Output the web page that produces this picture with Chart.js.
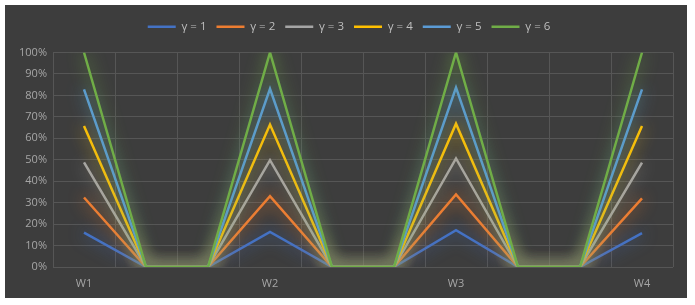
<!DOCTYPE html>
<html>
<head>
<meta charset="utf-8">
<script src="https://cdn.jsdelivr.net/npm/chart.js@4.4.1/dist/chart.umd.min.js"></script>
<style>
  html, body { margin: 0; padding: 0; background: #ffffff; }
  #wrap { position: absolute; left: 5px; top: 5px; width: 682px; height: 293px; background: #3d3d3d; }
  canvas { display: block; }
</style>
</head>
<body>
<div id="wrap"><canvas id="c" width="682" height="293"></canvas></div>
<script>
const categories = ['W1', '', '', 'W2', '', '', 'W3', '', '', 'W4'];
const seriesNames = ['γ = 1', 'γ = 2', 'γ = 3', 'γ = 4', 'γ = 5', 'γ = 6'];
const g1 = [0.160, 0, 0, 0.164, 0, 0, 0.172, 0, 0, 0.158];
const g2 = [0.324, 0, 0, 0.330, 0, 0, 0.338, 0, 0, 0.320];
const g3 = [0.488, 0, 0, 0.498, 0, 0, 0.506, 0, 0, 0.487];
const g4 = [0.657, 0, 0, 0.664, 0, 0, 0.668, 0, 0, 0.657];
const g5 = [0.828, 0, 0, 0.831, 0, 0, 0.836, 0, 0, 0.828];
const g6 = [1.000, 0, 0, 1.000, 0, 0, 1.000, 0, 0, 1.000];
const yTicks = [0, 0.1, 0.2, 0.3, 0.4, 0.5, 0.6, 0.7, 0.8, 0.9, 1.0];

const seriesValues = [g1, g2, g3, g4, g5, g6];
const colors = ['#4472C4', '#ED7D31', '#A5A5A5', '#FFC000', '#5B9BD5', '#70AD47'];
const glowColors = ['rgba(68,114,196,1)', 'rgba(237,125,49,1)', 'rgba(165,165,165,0.9)', 'rgba(255,192,0,0.85)', 'rgba(91,155,213,1)', 'rgba(112,173,71,1)'];

const glowPlugin = {
  id: 'glow',
  beforeInit(chart) {
    const lg = chart.legend;
    if (lg) {
      const orig = lg.fit.bind(lg);
      lg.fit = function () { orig(); this.height += 10; };
    }
  },
  afterLayout(chart) {
    const lg = chart.legend;
    if (lg) { lg.left += 10; lg.right += 10; }
  },
  beforeDatasetDraw(chart, args) {
    const ctx = chart.ctx;
    ctx.save();
    ctx.shadowColor = glowColors[args.index];
    ctx.shadowBlur = 16;
    ctx.shadowOffsetX = 0;
    ctx.shadowOffsetY = 0;
  },
  afterDatasetDraw(chart) {
    chart.ctx.restore();
  }
};

const datasets = seriesValues.map((vals, i) => ({
  label: seriesNames[i],
  data: vals,
  borderColor: colors[i],
  backgroundColor: colors[i],
  borderWidth: 2.5,
  pointRadius: 0,
  pointHoverRadius: 0,
  tension: 0,
  fill: false,
  order: 6 - i
}));

const font = { family: "'Open Sans', 'DejaVu Sans', sans-serif", size: 11 };

new Chart(document.getElementById('c'), {
  type: 'line',
  data: { labels: categories, datasets },
  plugins: [glowPlugin],
  options: {
    responsive: false,
    animation: false,
    layout: { padding: { top: 6, right: 14, left: 0, bottom: 4 } },
    plugins: {
      tooltip: { enabled: false },
      legend: {
        position: 'top',
        labels: {
          usePointStyle: true,
          pointStyle: 'line',
          pointStyleWidth: 28,
          color: '#bfbfbf',
          font: { family: font.family, size: 11.5 },
          padding: 10,
          sort: (a, b) => a.datasetIndex - b.datasetIndex
        }
      }
    },
    scales: {
      x: {
        offset: true,
        grid: { color: '#565656', lineWidth: 1, offset: true, drawTicks: false },
        border: { display: false },
        ticks: { color: '#a6a6a6', font: font, padding: 10, maxRotation: 0, autoSkip: false },
        afterFit(scale) { scale.height = 27; }
      },
      y: {
        min: 0,
        max: 1,
        afterBuildTicks(scale) { scale.ticks = yTicks.map(v => ({ value: v })); },
        grid: { color: '#565656', lineWidth: 1, drawTicks: false },
        border: { display: false },
        ticks: {
          color: '#a6a6a6',
          font: font,
          padding: 6,
          callback: v => Math.round(v * 100) + '%'
        },
        afterFit(scale) { scale.width = 48; }
      }
    }
  }
});
</script>
</body>
</html>
